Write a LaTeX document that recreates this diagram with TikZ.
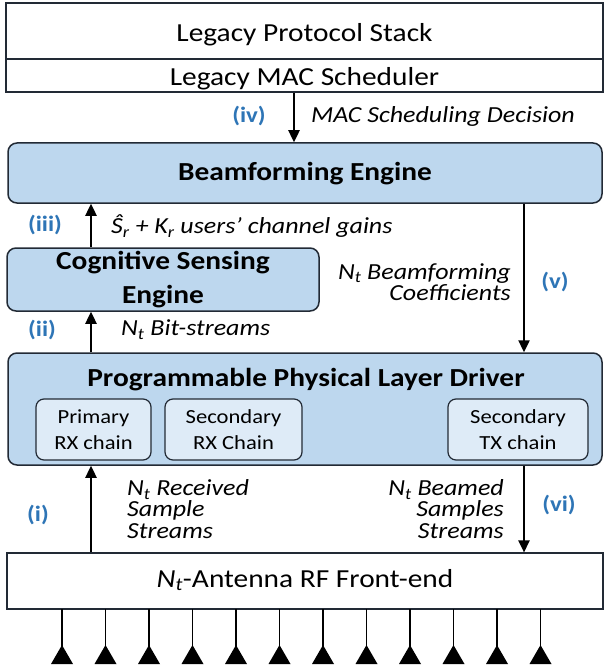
\documentclass[tikz,border=0pt]{standalone}
\usepackage{fontspec}
\setmainfont{Carlito}[FakeStretch=1.13]
\usetikzlibrary{arrows.meta}
\definecolor{bfill}{HTML}{BDD7EE}
\definecolor{sfill}{HTML}{DEEBF7}
\definecolor{lblue}{HTML}{2E75B6}
\definecolor{bord}{HTML}{222A35}
\newcommand{\lowerby}[2]{\raisebox{-#1}[\height][\depth]{#2}}
\begin{document}
\begin{tikzpicture}[x=1pt,y=-1pt,
  plainbox/.style={draw=bord,line width=1.1pt,fill=white,inner sep=0pt,font=\fontsize{26}{30}\selectfont},
  bluebox/.style={draw=bord,line width=1.5pt,fill=bfill,rounded corners=9pt,inner sep=0pt,font=\fontsize{26}{34}\selectfont\bfseries,align=center},
  subbox/.style={draw=bord,line width=1.2pt,fill=sfill,rounded corners=8pt,inner sep=0pt,font=\fontsize{20}{26}\selectfont,align=center},
  arr/.style={line width=2.4pt,-{Triangle[length=12pt,width=11pt]}},
  tag/.style={text=lblue,font=\fontsize{22}{26}\selectfont\bfseries},
  lab/.style={font=\fontsize{23}{21.5}\selectfont\itshape,inner sep=0pt}]
\useasboundingbox (0,0) rectangle (603,671);
\coordinate (xl) at (91,0);
\coordinate (xr) at (524,0);
% boxes
\node[plainbox,minimum width=597,minimum height=56] (stack) at (304.5,31) {\lowerby{4pt}{Legacy Protocol Stack}};
\node[plainbox,minimum width=597,minimum height=33] (mac) at (304.5,75.5) {\lowerby{3.5pt}{Legacy MAC Scheduler}};
\node[bluebox,minimum width=594,minimum height=60] (bf) at (305,173) {\lowerby{1pt}{Beamforming Engine}};
\node[bluebox,minimum width=312,minimum height=63] (cog) at (163,279.5) {Cognitive Sensing\\Engine};
\node[bluebox,minimum width=594,minimum height=112] (phy) at (305,409) {};
\node[font=\fontsize{26}{30}\selectfont\bfseries] (phyt) at (306,380) {Programmable Physical Layer Driver};
\node[subbox,minimum width=115,minimum height=61] (prx) at (93.5,429.5) {Primary\\RX chain};
\node[subbox,minimum width=137,minimum height=61] (srx) at (233.5,429.5) {Secondary\\RX Chain};
\node[subbox,minimum width=140,minimum height=61] (stx) at (518,429.5) {Secondary\\TX chain};
\node[plainbox,minimum width=596,minimum height=56] (rf) at (305,581) {\lowerby{-1pt}{\textit{N\textsubscript{t}}-Antenna RF Front-end}};
% arrows
\draw[arr] (mac.south -| 294,0) -- (bf.north -| 294,0);
\draw[arr] (cog.north -| xl) -- (bf.south -| xl);
\draw[arr] (bf.south -| xr) -- (phy.north -| xr);
\draw[arr] (phy.north -| xl) -- (cog.south -| xl);
\draw[arr] (rf.north -| xl) -- (phy.south -| xl);
\draw[arr] (phy.south -| xr) -- (rf.north -| xr);
% tags
\node[tag] (t4) at (249,116) {(iv)};
\node[tag] (t3) at (45,225) {(iii)};
\node[tag] (t5) at (555,282) {(v)};
\node[tag] (t2) at (42,330) {(ii)};
\node[tag] (t1) at (38,515) {(i)};
\node[tag] (t6) at (559,505) {(vi)};
% labels
\node[lab,anchor=west] (l4) at (311,116) {MAC Scheduling Decision};
\node[lab,anchor=west] (l3) at (111,226) {Ŝ\textsubscript{r} + K\textsubscript{r} users’ channel gains};
\node[lab,anchor=east,align=right] (l5) at (511,282) {N\textsubscript{t} Beamforming\\Coefficients};
\node[lab,anchor=west] (l2) at (121,330) {N\textsubscript{t} Bit-streams};
\node[lab,anchor=west,align=left] (l1) at (127,509) {N\textsubscript{t} Received\\Sample\\Streams};
\node[lab,anchor=east,align=right] (l6) at (504,509) {N\textsubscript{t} Beamed\\Samples\\Streams};
% antennas
\foreach \i in {0,...,11}{
  \pgfmathsetmacro{\ax}{62+43.5*\i}
  \draw[line width=1.3pt] (\ax,609) -- (\ax,650);
  \fill (\ax,645) -- (\ax-11,664) -- (\ax+11,664) -- cycle;
}
\end{tikzpicture}
\end{document}
